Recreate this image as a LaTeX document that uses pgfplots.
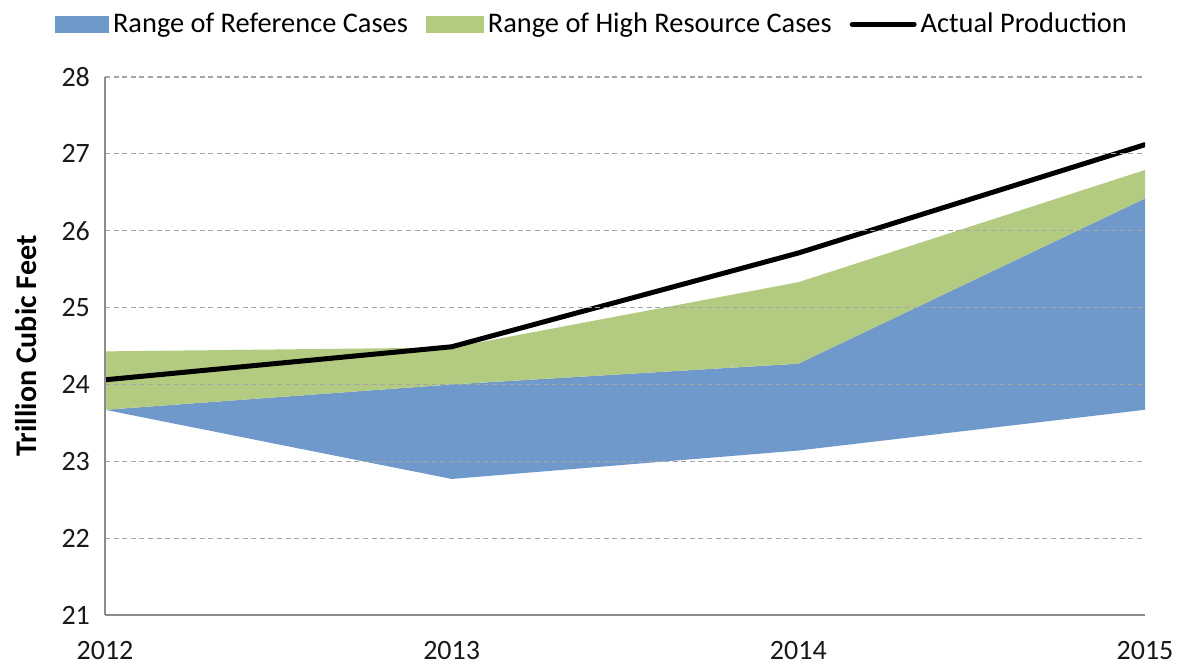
\documentclass[border=0pt]{standalone}
\usepackage{fontspec}
\setmainfont{Carlito}
\usepackage{pgfplots}
\pgfplotsset{compat=1.18}
\definecolor{refblue}{RGB}{112,153,203}
\definecolor{higreen}{RGB}{179,203,128}
\definecolor{gridgray}{RGB}{165,165,165}
\definecolor{axgray}{RGB}{140,140,140}
\begin{document}
\begin{tikzpicture}
\useasboundingbox (-52.5pt,-24.5pt) rectangle (536.5pt,307.5pt);
\begin{axis}[
  at={(0,0)}, anchor=south west,
  scale only axis, width=520pt, height=269pt,
  xmin=2012, xmax=2015, ymin=21, ymax=28,
  xtick={2012,2013,2014,2015}, ytick={21,...,28},
  /pgf/number format/1000 sep={},
  /pgf/number format/assume math mode=true,
  axis lines*=left,
  axis line style={axgray, line width=0.8pt},
  major tick length=0pt,
  ymajorgrids,
  grid style={gridgray, dash pattern=on 2.5pt off 1.8pt, line width=0.6pt},
  axis on top,
  tick label style={font=\fontsize{14}{16}\selectfont, text=black!90},
  y tick label style={xshift=-4pt},
  x tick label style={yshift=-9.5pt},
  ylabel={\bfseries Trillion Cubic Feet},
  ylabel style={font=\fontsize{15}{17}\selectfont, at={(axis description cs:-0.076,0.5)}, anchor=center},
  legend columns=3,
  legend style={draw=none, fill=none, inner sep=0pt, outer sep=0pt,
    at={(axis description cs:-0.048,1.098)}, anchor=west,
    font=\fontsize{14.2}{16}\selectfont,
    nodes={inner sep=2pt},
    /tikz/every even column/.append style={column sep=7pt}},
]
\addplot[fill=refblue, draw=none, area legend,
  legend image code/.code={\fill[refblue] (0pt,-4.3pt) rectangle (27pt,4.3pt);}]
  coordinates {(2012,23.67) (2013,22.77) (2014,23.14) (2015,23.67)
               (2015,26.42) (2014,24.27) (2013,24.00) (2012,23.67)} -- cycle;
\addlegendentry{Range of Reference Cases}
\addplot[fill=higreen, draw=none, area legend,
  legend image code/.code={\fill[higreen] (0pt,-4.3pt) rectangle (29pt,4.3pt);}]
  coordinates {(2012,23.67) (2013,24.00) (2014,24.27) (2015,26.42)
               (2015,26.79) (2014,25.33) (2013,24.48) (2012,24.43)} -- cycle;
\addlegendentry{Range of High Resource Cases}
\addplot[black, line width=2.5pt, line cap=round,
  legend image code/.code={\draw[black, line width=2.5pt, line cap=round] (0pt,0pt) -- (31pt,0pt);}]
  coordinates {(2012,24.06) (2013,24.49) (2014,25.71) (2015,27.12)};
\addlegendentry{Actual Production}
\end{axis}
\end{tikzpicture}
\end{document}
